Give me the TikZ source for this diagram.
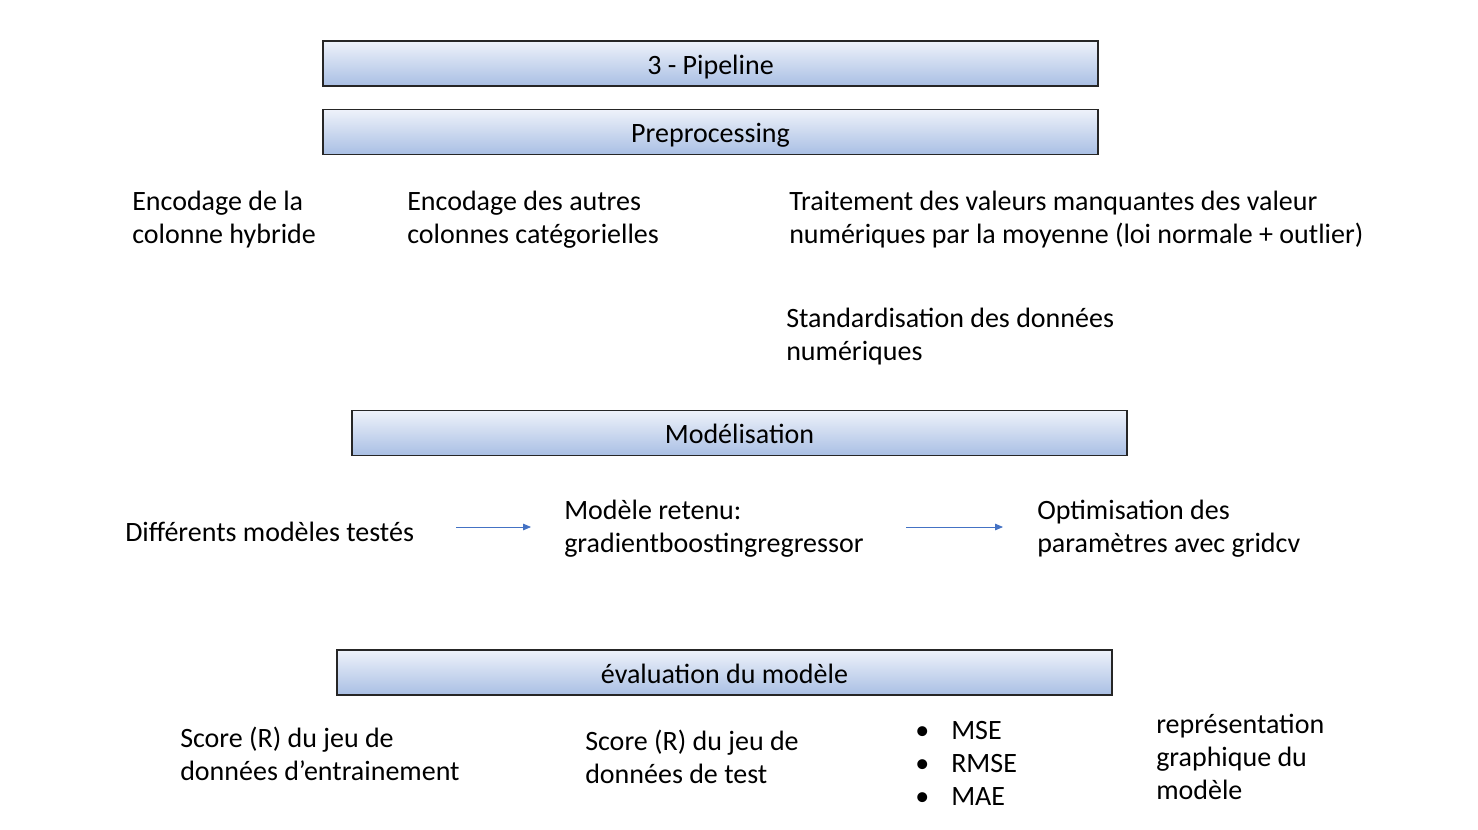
\documentclass[tikz,border=0pt]{standalone}
\usepackage{fontspec}
\setmainfont{Carlito}
\usetikzlibrary{arrows.meta,positioning}

\definecolor{bartop}{HTML}{EEF2FA}
\definecolor{barbot}{HTML}{A9BFE4}
\definecolor{arrowblue}{HTML}{4472C4}

\begin{document}
\begin{tikzpicture}[
  x=0.75pt, y=-0.75pt,
  every node/.style={font=\fontsize{21}{24.75}\selectfont},
  bar/.style={draw=black!85, line width=1pt, top color=bartop, bottom color=barbot,
    minimum width=581.25pt, minimum height=33.75pt, inner sep=0pt, text depth=0pt,
    text height=16pt},
  txt/.style={anchor=west, align=left, inner sep=0pt, yshift=-1.5pt},
  line/.style={-{Triangle[length=6pt,width=5pt]}, arrowblue, line width=0.6pt}
]
\useasboundingbox (0,0) rectangle (1478,829);

% bars
\node[bar] (pipeline) at (710.5,63.5) {3 - Pipeline};
\node[bar] (preproc) at (710.5,132) {Preprocessing};
\node[bar] (model) at (739.5,433) {Modélisation};
\node[bar] (eval) at (724.5,672.5) {évaluation du modèle};

% preprocessing steps
\node[txt] (hybrid) at (132,217.5) {Encodage de la\\colonne hybride};
\node[txt] (categ) at (407,217.5) {Encodage des autres\\colonnes catégorielles};
\node[txt] (missing) at (789,217.5) {Traitement des valeurs manquantes des valeur\\numériques par la moyenne (loi normale + outlier)};
\node[txt] (scaling) at (786,334.5) {Standardisation des données\\numériques};

% modelling steps
\node[txt] (tested) at (125,530) {Différents modèles testés};
\node[txt] (chosen) at (564,526.5) {Modèle retenu:\\gradientboostingregressor};
\node[txt] (tuning) at (1037,526.5) {Optimisation des\\paramètres avec gridcv};
\coordinate (a1) at (456,527);
\coordinate (a2) at (531,527);
\coordinate (b1) at (906,527);
\coordinate (b2) at (1003,527);
\draw[line] (a1) -- (a2);
\draw[line] (b1) -- (b2);

% evaluation
\node[txt] (trainscore) at (180,751.5) {Score (R) du jeu de\\données d’entrainement};
\node[txt] (testscore) at (585,754.5) {Score (R) du jeu de\\données de test};
\node[txt] (metrics) at (915,761.5) {\makebox[27pt][l]{\textbullet}MSE\\\makebox[27pt][l]{\textbullet}RMSE\\\makebox[27pt][l]{\textbullet}MAE};
\node[txt] (plot) at (1156,754.5) {représentation\\graphique du\\modèle};
\end{tikzpicture}
\end{document}
